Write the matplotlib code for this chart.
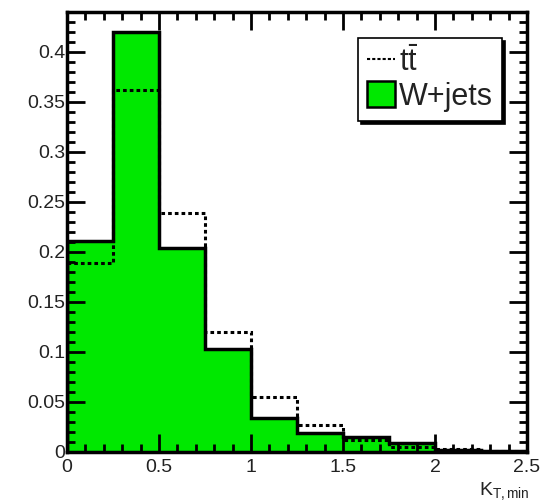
import matplotlib
matplotlib.use('Agg')
import matplotlib.pyplot as plt
import numpy as np
from matplotlib.ticker import MultipleLocator, FormatStrFormatter
from matplotlib.lines import Line2D
from matplotlib.patches import Patch

plt.rcParams['font.family'] = ['Liberation Sans', 'DejaVu Sans']
plt.rcParams['mathtext.fontset'] = 'custom'
plt.rcParams['mathtext.rm'] = 'Liberation Sans'
plt.rcParams['mathtext.it'] = 'Liberation Sans'

# bin edges of K_T,min and normalised contents
edges = [0.0, 0.25, 0.5, 0.75, 1.0, 1.25, 1.5, 1.75, 2.0, 2.25, 2.5]
wjets = [0.211, 0.420, 0.204, 0.103, 0.034, 0.019, 0.015, 0.009, 0.002, 0.001]
ttbar = [0.189, 0.362, 0.239, 0.120, 0.055, 0.027, 0.012, 0.005, 0.003, 0.001]

green = '#00e800'
txt = '#222222'

fig = plt.figure(figsize=(5.45, 5.04), dpi=100)
ax = fig.add_axes([67 / 545, 1 - 452 / 504, 460 / 545, 440 / 504])

ax.stairs(wjets, edges, fill=True, color=green, zorder=1)
ax.stairs(wjets, edges, color='black', lw=2.5, baseline=0, zorder=2)
ax.stairs(ttbar, edges, color='black', lw=2.2, ls=(0, (1.2, 1.0)),
          baseline=None, zorder=3)

ax.set_xlim(0, 2.5)
ax.set_ylim(0, 0.44)
ax.xaxis.set_major_locator(MultipleLocator(0.5))
ax.xaxis.set_minor_locator(MultipleLocator(0.1))
ax.yaxis.set_major_locator(MultipleLocator(0.05))
ax.yaxis.set_minor_locator(MultipleLocator(0.01))
ax.xaxis.set_major_formatter(FormatStrFormatter('%g'))
ax.yaxis.set_major_formatter(FormatStrFormatter('%g'))
ax.tick_params(which='both', direction='in', top=True, right=True,
               width=2, labelsize=14, colors='black', labelcolor=txt)
ax.tick_params(which='major', length=13)
ax.tick_params(which='minor', length=6)
ax.tick_params(axis='x', pad=5)
ax.tick_params(axis='y', pad=1)
for s in ax.spines.values():
    s.set_linewidth(2.5)

fig.text(504 / 545, 1 - 491 / 504, r'$\mathregular{K_{T,min}}$',
         ha='center', va='center', fontsize=14, color=txt)

handles = [Line2D([], [], color='black', lw=1.5, ls=(0, (1.5, 1.0))),
           Patch(facecolor=green, edgecolor='black', lw=1.8)]
leg = ax.legend(handles, [r'$\mathregular{t\bar{t}}$', 'W+jets'],
                loc='upper left', bbox_to_anchor=(291 / 460, 1 - 26 / 440),
                fontsize=22, frameon=True, fancybox=False,
                shadow={'color': 'black', 'alpha': 1},
                handlelength=0.9, handleheight=0.95, handletextpad=0.15,
                borderpad=0.3, labelspacing=0.1, borderaxespad=0)
leg.get_frame().set_edgecolor('black')
leg.get_frame().set_linewidth(1.2)
for t in leg.get_texts():
    t.set_color(txt)

fig.savefig('out.png', dpi=100)
